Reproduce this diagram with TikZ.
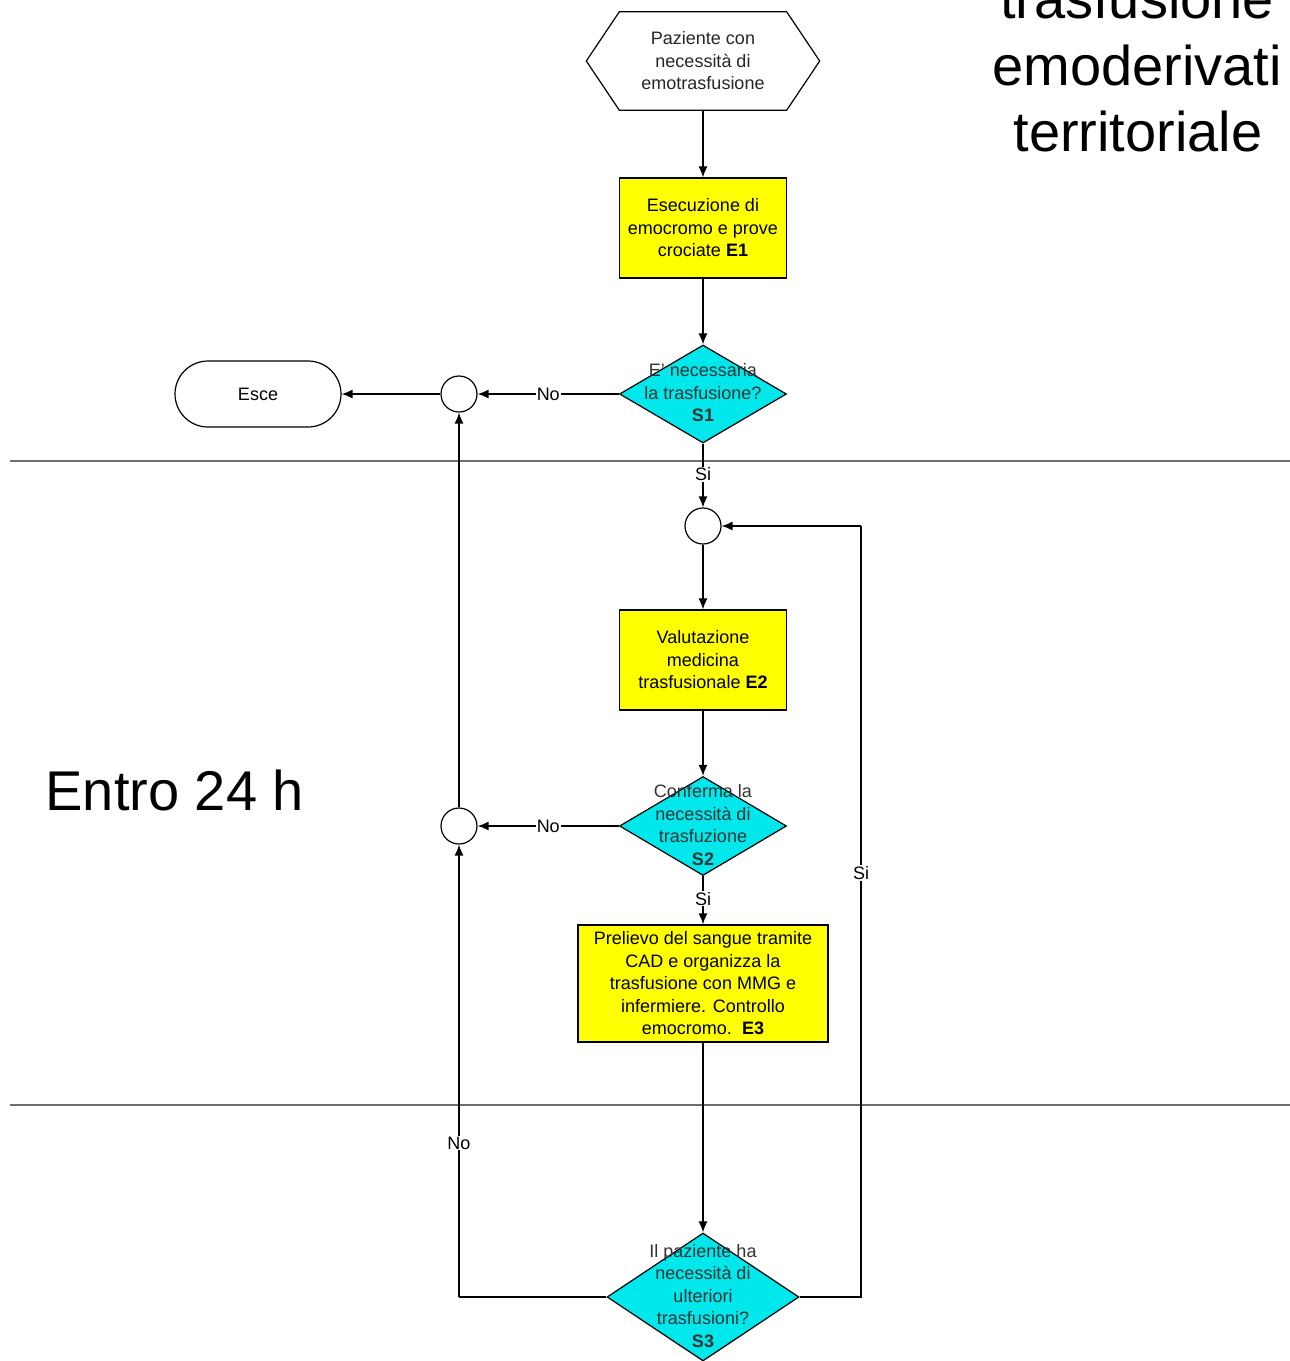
\documentclass[tikz,border=0pt]{standalone}
\usepackage{fontspec}
\setmainfont{Liberation Sans}
\usetikzlibrary{shapes.geometric,arrows.meta,calc}
\definecolor{boxyellow}{RGB}{255,255,0}
\definecolor{dcyan}{RGB}{0,232,236}
\definecolor{sepgray}{RGB}{110,110,110}
\begin{document}
\begin{tikzpicture}[x=1pt,y=-1pt,
  every node/.style={font=\fontsize{18}{22.5}\selectfont},
  conn/.style={line width=1.4pt,-{Latex[length=11pt,width=9pt]}},
  plain/.style={line width=1.4pt},
  proc/.style={draw,line width=1.2pt,fill=boxyellow,align=center,inner sep=2pt,minimum height=100pt},
  dec/.style={draw,line width=1.2pt,fill=dcyan,shape=diamond,inner sep=0pt,aspect=1.7},
  dtext/.style={align=center,text=black!80},
  junc/.style={draw,line width=1.2pt,circle,minimum size=36pt,inner sep=0pt,fill=white},
  lab/.style={fill=white,inner sep=1pt},
  big/.style={font=\fontsize{56}{65}\selectfont,anchor=base}]
\useasboundingbox (0,0) rectangle (1290,1361);
\fill[white] (0,0) rectangle (1290,1361);

% separators
\draw[sepgray,line width=1.6pt] (10,461) -- (1290,461);
\draw[sepgray,line width=1.6pt] (10,1105) -- (1290,1105);

% titles
\node[big] (t1) at (1137,18) {trasfusione};
\node[big] (t2) at (1137,85) {emoderivati};
\node[big] (t3) at (1138,151) {territoriale};
\node[big,anchor=base west] (entro) at (42,810) {Entro 24 h};

% hexagon start
\node[minimum width=233pt,minimum height=98pt,inner sep=0pt] (hex) at (703,61) {};
\draw[line width=1.2pt] (hex.west) -- ($(hex.north west)+(33,0)$) -- ($(hex.north east)+(-33,0)$)
  -- (hex.east) -- ($(hex.south east)+(-33,0)$) -- ($(hex.south west)+(33,0)$) -- cycle;
\node[align=center,text=black!85] (hext) at (703,61) {Paziente con\\necessità di\\emotrasfusione};

% E1
\node[proc,minimum width=167pt] (e1) at (703,228) {Esecuzione di\\emocromo e prove\\crociate \textbf{E1}};
% S1
\node[dec,minimum width=167pt,minimum height=98pt] (s1) at (703,394) {};
\node[dtext] (s1t) at (703,393) {E' necessaria\\la trasfusione?\\\textbf{S1}};
% junctions
\node[junc] (c1) at (459,394) {};
\node[junc] (c2) at (703,526) {};
\node[junc] (c3) at (459,826) {};
% Esce
\node[draw,line width=1.2pt,rounded corners=33pt,minimum width=166pt,minimum height=66pt] (esce) at (258,394) {Esce};
% E2
\node[proc,minimum width=167pt] (e2) at (703,660) {Valutazione\\medicina\\trasfusionale \textbf{E2}};
% S2
\node[dec,minimum width=167pt,minimum height=99pt] (s2) at (703,826) {};
\node[dtext] (s2t) at (703,825) {Conferma la\\necessità di\\trasfuzione\\\textbf{S2}};
% E3
\node[proc,minimum width=250pt,minimum height=117pt] (e3) at (703,983.5) {Prelievo del sangue tramite\\CAD e organizza la\\trasfusione con MMG e\\infermiere. Controllo\\emocromo.\ \ \textbf{E3}};
% S3
\node[dec,minimum width=192pt,minimum height=128pt] (s3) at (703,1297) {};
\node[dtext] (s3t) at (703,1296) {Il paziente ha\\necessità di\\ulteriori\\trasfusioni?\\\textbf{S3}};

\coordinate (s3l) at (459,1297);
\coordinate (s3r) at (861,1297);
\coordinate (upr) at (861,526);

% connectors
\draw[conn] (hex.south) -- (e1.north);
\draw[conn] (e1.south) -- (s1.north);
\draw[conn] (s1.west) -- node[lab] (no1) {No} (c1.east);
\draw[conn] (c1.west) -- (esce.east);
\draw[conn] (s1.south) -- node[lab,pos=0.48] (si1) {Si} (c2.north);
\draw[conn] (c2.south) -- (e2.north);
\draw[conn] (e2.south) -- (s2.north);
\draw[conn] (s2.west) -- node[lab] (no2) {No} (c3.east);
\draw[conn] (s2.south) -- node[lab,pos=0.47] (si2) {Si} (e3.north);
\draw[conn] (e3.south) -- (s3.north);
\draw[conn] (c3.north) -- (c1.south);
\draw[plain] (s3.west) -- (s3l);
\draw[conn] (s3l) -- node[lab,pos=0.34] (no3) {No} (c3.south);
\draw[plain] (s3.east) -- (s3r) -- node[lab,pos=0.55] (si3) {Si} (upr);
\draw[conn] (upr) -- (c2.east);
\end{tikzpicture}
\end{document}
